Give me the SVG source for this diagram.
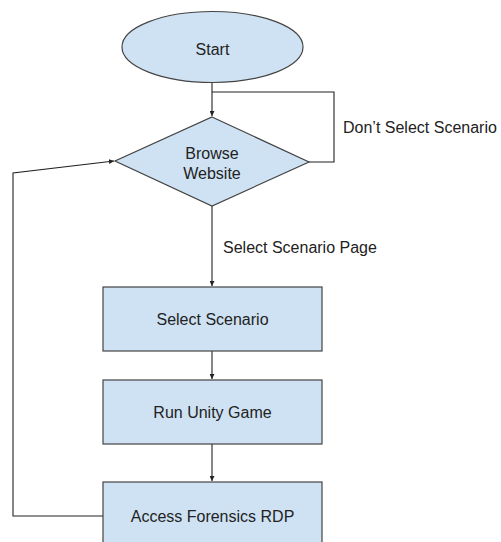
<svg xmlns="http://www.w3.org/2000/svg" width="501" height="542" viewBox="0 0 501 542">
  <defs>
    <marker id="arrow" viewBox="0 0 8 8" refX="8" refY="4" markerWidth="5" markerHeight="5" orient="auto" markerUnits="userSpaceOnUse">
      <path d="M0,0 L8,4 L0,8 z" fill="#222"/>
    </marker>
    <style>
      .shape { fill: #cfe2f3; stroke: #444; stroke-width: 1.2; }
      .edge { fill: none; stroke: #222; stroke-width: 1.1; }
      .label { font-family: "Liberation Sans", Arial, sans-serif; font-size: 16px; fill: #222; }
      .center { text-anchor: middle; }
    </style>
  </defs>
  <rect width="501" height="542" fill="#ffffff"/>

  <!-- connectors -->
  <g id="connectors">
    <path class="edge" d="M212,82 L212,116" marker-end="url(#arrow)"/>
    <path class="edge" d="M309,162 L334,162 L334,92 L212,92"/>
    <path class="edge" d="M212,206 L212,286" marker-end="url(#arrow)"/>
    <path class="edge" d="M212,351 L212,379" marker-end="url(#arrow)"/>
    <path class="edge" d="M212,444 L212,481" marker-end="url(#arrow)"/>
    <path class="edge" d="M103,516 L13,516 L13,173 L114,161" marker-end="url(#arrow)"/>
    <text class="label" x="343" y="133">Don’t Select Scenario</text>
    <text class="label" x="223" y="253">Select Scenario Page</text>
  </g>

  <g id="start">
    <ellipse class="shape" cx="212.5" cy="47" rx="90.5" ry="35.5"/>
    <text class="label center" x="212.5" y="55">Start</text>
  </g>

  <g id="browse-website">
    <path class="shape" d="M212,117 L309,162 L212,206 L115,161 z"/>
    <text class="label center" x="212" y="159">Browse</text>
    <text class="label center" x="212" y="179">Website</text>
  </g>

  <g id="select-scenario">
    <rect class="shape" x="103" y="287" width="219" height="64"/>
    <text class="label center" x="212.5" y="325">Select Scenario</text>
  </g>

  <g id="run-unity-game">
    <rect class="shape" x="103" y="380" width="219" height="64"/>
    <text class="label center" x="212.5" y="418">Run Unity Game</text>
  </g>

  <g id="access-forensics-rdp">
    <rect class="shape" x="103" y="482" width="219" height="66"/>
    <text class="label center" x="212.5" y="521.5">Access Forensics RDP</text>
  </g>
</svg>
